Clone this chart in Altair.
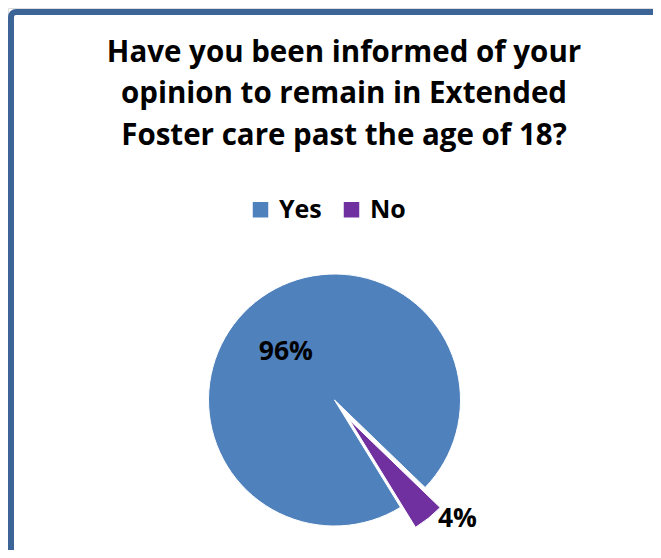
import altair as alt
import pandas as pd

# ---- data ----
title_lines = [
    "Have you been informed of your",
    "opinion to remain in Extended",
    "Foster care past the age of 18?",
]
categories = ["Yes", "No"]
percents = [96, 4]
slice_colors = ["#4F81BD", "#7030A0"]

df = pd.DataFrame({"answer": categories, "pct": percents, "order": list(range(len(categories)))})
df["label"] = [f"{p}%" for p in percents]

# ---- layout ----
W, H = 645, 542
CX, CY = 326.5, 392
R = 126
START = 2.59
TWO_PI = 6.283185307
EX, EY = 15, 20
FONT = "Open Sans"

theta = alt.Theta("pct:Q", stack=True, scale=alt.Scale(range=[START, START + TWO_PI]))
order = alt.Order("order:Q")
color = alt.Color(
    "answer:N",
    scale=alt.Scale(domain=categories, range=slice_colors),
    legend=alt.Legend(
        title=None, orient="none", legendX=240, legendY=189, direction="horizontal",
        symbolType="square", symbolSize=240, symbolStrokeWidth=0,
        labelFont=FONT, labelFontWeight="bold", labelFontSize=25, labelColor="black",
        labelOffset=6, columnPadding=17, padding=0,
    ),
)

base = alt.Chart(df).encode(theta=theta, order=order)

is_no = alt.datum.answer == "No"

pie_main = base.mark_arc(outerRadius=R, stroke="white", strokeWidth=1).encode(
    color=color, x=alt.value(CX), y=alt.value(CY),
    opacity=alt.condition(is_no, alt.value(0), alt.value(1)),
)
pie_expl = base.mark_arc(outerRadius=R, stroke="white", strokeWidth=1).encode(
    color=color, x=alt.value(CX + EX), y=alt.value(CY + EY),
    opacity=alt.condition(is_no, alt.value(1), alt.value(0)),
)

lbl_yes = base.mark_text(font=FONT, fontWeight="bold", fontSize=26.5, color="black",
                         radius=68, thetaOffset=-0.12).encode(
    text="label:N", x=alt.value(CX), y=alt.value(CY),
    opacity=alt.condition(is_no, alt.value(0), alt.value(1)),
)
lbl_no = base.mark_text(font=FONT, fontWeight="bold", fontSize=26.5, color="black",
                        radius=171, thetaOffset=-0.125).encode(
    text="label:N", x=alt.value(CX), y=alt.value(CY),
    opacity=alt.condition(is_no, alt.value(1), alt.value(0)),
)

one = pd.DataFrame({"a": [0]})
title_layers = []
for i, line in enumerate(title_lines):
    title_layers.append(
        alt.Chart(one).mark_text(font=FONT, fontWeight="bold", fontSize=29.5, color="black",
                                 align="center", baseline="alphabetic", text=line).encode(
            x=alt.value(336), y=alt.value(53.7 + 41.7 * i)
        )
    )

border = alt.Chart(one).mark_rect(filled=False, stroke="#3C6497", strokeWidth=6,
                                  cornerRadius=5, clip=True).encode(
    x=alt.value(3), x2=alt.value(W + 30), y=alt.value(4), y2=alt.value(H + 30)
)

chart = alt.layer(border, pie_main, pie_expl, lbl_yes, lbl_no, *title_layers).properties(
    width=W, height=H, autosize=alt.AutoSizeParams(type="none"), padding=0,
).configure_view(stroke=None).configure(background="white")

chart.save("out.html", embed_options={"renderer": "svg", "actions": False})
